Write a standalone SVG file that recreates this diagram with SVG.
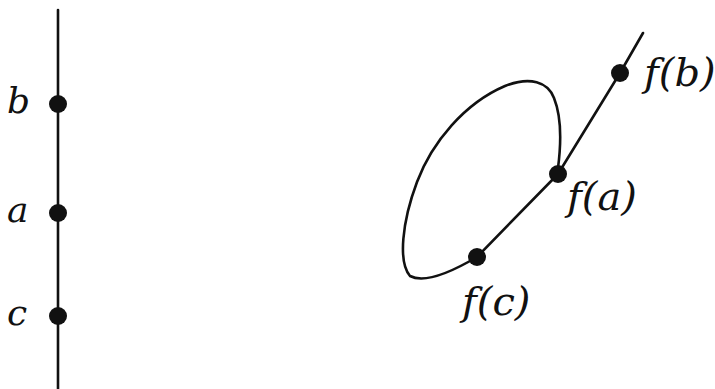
<svg xmlns="http://www.w3.org/2000/svg" width="715" height="389" viewBox="0 0 715 389">
<style>
.ln{fill:none;stroke:#111;stroke-width:2.6;stroke-linecap:round;stroke-linejoin:round}
.dot{fill:#111}
.lbl{font-family:"DejaVu Serif","Liberation Serif",serif;font-style:italic;font-weight:normal;fill:#111}
</style>
<rect width="715" height="389" fill="#fff"/>
<g id="connectors">
<line class="ln" x1="58" y1="10" x2="58" y2="389"/>
<path class="ln" d="M643,33 L620,73 L558,174 L477,257"/>
<path class="ln" d="M477,257 C455,270 425,284 410,276 C398,262 402,222 417,182 C432,142 465,103 505,86 C530,76 548,82 554,98 C562,118 561,145 558,168"/>
</g>
<g id="b"><circle class="dot" cx="58" cy="104" r="9"/><text class="lbl" x="7" y="113" font-size="36">b</text></g>
<g id="a"><circle class="dot" cx="58" cy="213" r="9"/><text class="lbl" x="7" y="222" font-size="36">a</text></g>
<g id="c"><circle class="dot" cx="58" cy="316" r="9"/><text class="lbl" x="7" y="325" font-size="36">c</text></g>
<g id="fb"><circle class="dot" cx="620" cy="73" r="9"/><text class="lbl" x="644" y="86" font-size="40">f(b)</text></g>
<g id="fa"><circle class="dot" cx="558" cy="174" r="9"/><text class="lbl" x="567" y="210" font-size="40">f(a)</text></g>
<g id="fc"><circle class="dot" cx="477" cy="257" r="9"/><text class="lbl" x="462" y="315" font-size="40">f(c)</text></g>
</svg>
